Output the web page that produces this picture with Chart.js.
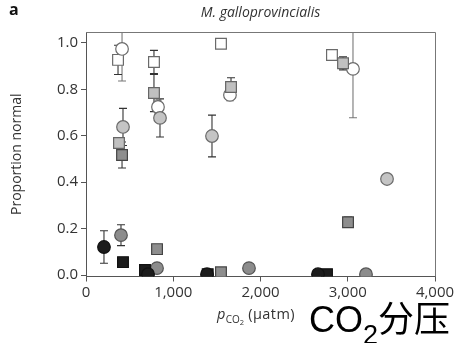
<!DOCTYPE html>
<html>
<head>
<meta charset="utf-8">
<script src="https://cdn.jsdelivr.net/npm/chart.js@4.4.1/dist/chart.umd.min.js"></script>
<style>
  html, body { margin: 0; padding: 0; background: #fff; }
  #wrap { position: relative; width: 457px; height: 343px; overflow: hidden; }
  #chart { position: absolute; left: 0; top: 0; }
  .panel { position: absolute; left: 9px; top: -2px; font: bold 16px "Open Sans", sans-serif; color: #111; }
  .title { position: absolute; left: 86px; width: 349px; top: 2px; text-align: center;
           font: italic 14px "Open Sans", sans-serif; color: #333; }
  .xtitle { position: absolute; left: 217px; top: 304px; font: 14.5px "Open Sans", sans-serif; color: #333;
            white-space: nowrap; letter-spacing: 0.4px; }
  .xtitle i { font-style: italic; }
  .xtitle .sub { font-size: 10px; position: relative; top: 4px; letter-spacing: 0; }
  .xtitle .sub2 { font-size: 7.5px; position: relative; top: 2px; }
  .note { position: absolute; left: 309px; top: 290px; line-height: 1; white-space: nowrap;
          font: 36px "Liberation Sans", "Noto Sans CJK SC", sans-serif; color: #000; }
  .note .s { font-size: 27px; position: relative; top: 12px; }
</style>
</head>
<body>
<div id="wrap">
  <canvas id="chart" width="457" height="343"></canvas>
  <div class="panel">a</div>
  <div class="title">M. galloprovincialis</div>
  <div class="xtitle"><i>p</i><span class="sub">CO<span class="sub2">2</span></span> (µatm)</div>
  <div class="note">CO<span class="s">2</span>分压</div>
</div>
<script>
// Axis ticks
const xTicks = [0, 1000, 2000, 3000, 4000];
const yTicks = [0, 0.2, 0.4, 0.6, 0.8, 1.0];

// pCO2 (µatm), proportion normal and ± error of each group
const openCircleX   = [413, 825, 1650, 3060];
const openCircleY   = [0.974, 0.724, 0.776, 0.888];
const openCircleErr = [0.138, 0.03, 0.025, 0.21];

const openSquareX   = [367, 779, 1547, 2819];
const openSquareY   = [0.927, 0.918, 0.996, 0.948];
const openSquareErr = [0.063, 0.05, 0, 0];

const lightSquareX   = [378, 779, 1662, 2946];
const lightSquareY   = [0.569, 0.784, 0.81, 0.912];
const lightSquareErr = [0.02, 0.08, 0.04, 0.028];

const greySquareX   = [413, 814, 1547, 3003];
const greySquareY   = [0.517, 0.112, 0.012, 0.228];
const greySquareErr = [0.056, 0, 0, 0.022];

const blackSquareX   = [424, 676, 1395, 2762];
const blackSquareY   = [0.056, 0.022, 0.004, 0.004];
const blackSquareErr = [0, 0, 0, 0];

const lightCircleX   = [424, 848, 1444, 3450];
const lightCircleY   = [0.638, 0.677, 0.599, 0.414];
const lightCircleErr = [0.08, 0.082, 0.09, 0];

const greyCircleX   = [401, 814, 1868, 3209];
const greyCircleY   = [0.172, 0.03, 0.03, 0.004];
const greyCircleErr = [0.045, 0, 0, 0];

const blackCircleX   = [206, 711, 1387, 2659];
const blackCircleY   = [0.121, 0.004, 0.004, 0.004];
const blackCircleErr = [0.07, 0, 0, 0];

const FONT = '"Open Sans", sans-serif';

function points(xs, ys, errs) {
  return xs.map((x, i) => ({ x: x, y: ys[i], err: errs[i] }));
}

function group(xs, ys, errs, style, fill, stroke, barColor) {
  return {
    data: points(xs, ys, errs),
    pointStyle: style,
    pointRadius: style === 'rect' ? 7.6 : 6.3,
    pointHoverRadius: style === 'rect' ? 7.6 : 6.3,
    backgroundColor: fill,
    borderColor: stroke,
    borderWidth: 1.2,
    barColor: barColor
  };
}

// Vertical error bars with caps, drawn underneath the markers
const errorBars = {
  id: 'errorBars',
  beforeDatasetsDraw(chart) {
    const { ctx, chartArea, scales } = chart;
    ctx.save();
    ctx.beginPath();
    ctx.rect(chartArea.left, chartArea.top, chartArea.right - chartArea.left, chartArea.bottom - chartArea.top);
    ctx.clip();
    ctx.lineWidth = 1.1;
    chart.data.datasets.forEach(ds => {
      ctx.strokeStyle = ds.barColor;
      ds.data.forEach(p => {
        if (!p.err) return;
        const x = scales.x.getPixelForValue(p.x);
        const yTop = scales.y.getPixelForValue(p.y + p.err);
        const yBot = scales.y.getPixelForValue(p.y - p.err);
        ctx.beginPath();
        ctx.moveTo(x, yTop); ctx.lineTo(x, yBot);
        ctx.moveTo(x - 4, yTop); ctx.lineTo(x + 4, yTop);
        ctx.moveTo(x - 4, yBot); ctx.lineTo(x + 4, yBot);
        ctx.stroke();
      });
    });
    ctx.restore();
  }
};

// Top and right edges of the plot box
const frame = {
  id: 'frame',
  afterDraw(chart) {
    const { ctx, chartArea } = chart;
    ctx.save();
    ctx.strokeStyle = '#777';
    ctx.lineWidth = 1;
    ctx.beginPath();
    ctx.moveTo(chartArea.left, chartArea.top + 0.5);
    ctx.lineTo(chartArea.right + 0.5, chartArea.top + 0.5);
    ctx.lineTo(chartArea.right + 0.5, chartArea.bottom);
    ctx.stroke();
    ctx.restore();
  }
};

new Chart(document.getElementById('chart'), {
  type: 'scatter',
  data: {
    datasets: [
      group(blackCircleX, blackCircleY, blackCircleErr, 'circle', '#1c1c1c', '#111', '#333'),
      group(blackSquareX, blackSquareY, blackSquareErr, 'rect', '#1c1c1c', '#111', '#333'),
      group(greyCircleX, greyCircleY, greyCircleErr, 'circle', '#8c8c8c', '#555', '#333'),
      group(greySquareX, greySquareY, greySquareErr, 'rect', '#8e8e8e', '#444', '#333'),
      group(lightCircleX, lightCircleY, lightCircleErr, 'circle', '#c4c4c4', '#6a6a6a', '#333'),
      group(lightSquareX, lightSquareY, lightSquareErr, 'rect', '#c0c0c0', '#666', '#333'),
      group(openCircleX, openCircleY, openCircleErr, 'circle', '#ffffff', '#6a6a6a', '#777'),
      group(openSquareX, openSquareY, openSquareErr, 'rect', '#ffffff', '#6a6a6a', '#333')
    ]
  },
  options: {
    responsive: false,
    animation: false,
    events: [],
    layout: { padding: { left: 0, right: 22, top: 32, bottom: 0 } },
    plugins: {
      legend: { display: false },
      tooltip: { enabled: false },
      title: { display: false }
    },
    scales: {
      x: {
        type: 'linear',
        min: 0,
        max: 4000,
        afterBuildTicks: s => { s.ticks = xTicks.map(v => ({ value: v })); },
        afterFit: s => { s.height = 66.5; },
        ticks: {
          autoSkip: false,
          maxRotation: 0,
          padding: 2,
          color: '#333',
          font: { family: FONT, size: 15 },
          callback: v => v.toLocaleString('en-US')
        },
        grid: { drawOnChartArea: false, tickLength: 5, color: '#555' },
        border: { color: '#555', width: 1 }
      },
      y: {
        type: 'linear',
        min: -0.006,
        max: 1.047,
        afterBuildTicks: s => { s.ticks = yTicks.map(v => ({ value: v })); },
        afterFit: s => { s.width = 86; },
        ticks: {
          padding: 3,
          color: '#333',
          font: { family: FONT, size: 15 },
          callback: v => v.toFixed(1)
        },
        title: {
          display: true,
          text: 'Proportion normal',
          color: '#333',
          font: { family: FONT, size: 14 },
          padding: { top: 9, bottom: 0 }
        },
        grid: { drawOnChartArea: false, tickLength: 5, color: '#555' },
        border: { color: '#555', width: 1 }
      }
    }
  },
  plugins: [errorBars, frame]
});
</script>
</body>
</html>
